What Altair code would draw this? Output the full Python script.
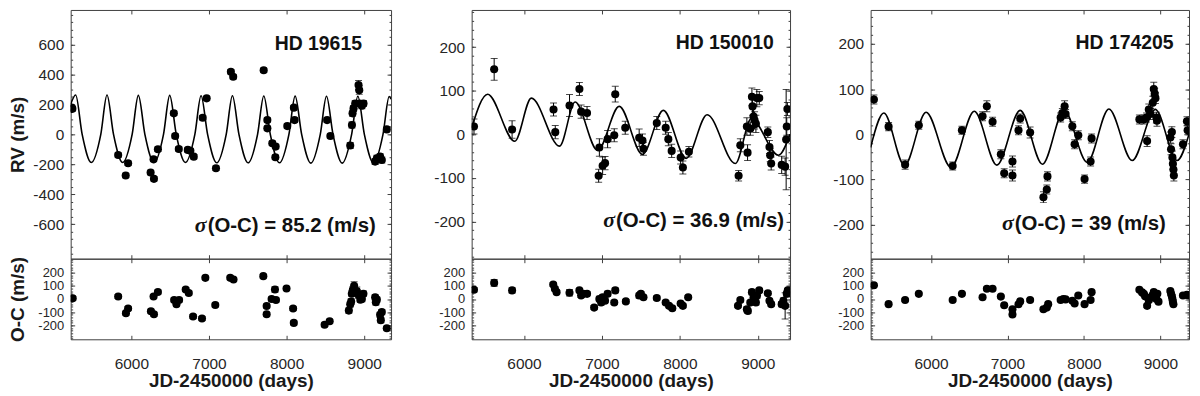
import altair as alt
import pandas as pd

FONT = "Liberation Sans"
AX = "#404040"
X_TICKS = [6000, 7000, 8000, 9000]
OC_MAJ = [-200, -100, 0, 100, 200]
OC_MIN = [-300, -280, -260, -240, -220, -200, -180, -160, -140, -120, -100, -80, -60, -40, -20, 0,
          20, 40, 60, 80, 100, 120, 140, 160, 180, 200, 220, 240, 260, 280, 300]

# ---------------- HD 19615 ----------------
s1_jd = [5231, 5240, 5830, 5927, 5958, 6248, 6291, 6286, 6342, 6547, 6564, 6611, 6727, 6760, 6804, 6919,
         6970, 7090, 7282, 7312, 7705, 7752, 7752, 7816, 7859, 7855, 8009, 8094, 8103, 8522, 8564, 8820,
         8842, 8850, 8863, 8884, 8927, 8936, 8940, 8970, 8991, 9141, 9163, 9205, 9227, 9291]
s1_rv = [178, 170, -138, -275, -193, -255, -297, -167, -100, 140, -11, -98, -104, -110, -149, 111,
         240, -226, 417, 384, 428, 95, 40, -60, -82, -153, 55, 178, 95, 95, -11, -75,
         62, 140, 173, 206, 329, 295, 206, 191, 206, -182, -160, -149, -171, 33]
s1_err = [15, 15, 15, 15, 15, 15, 15, 15, 15, 15, 15, 15, 15, 15, 15, 15, 15, 15, 15, 15, 15, 15, 15,
          15, 15, 15, 15, 15, 15, 15, 15, 20, 20, 20, 20, 20, 30, 30, 20, 20, 20, 20, 20, 20, 20, 15]
s1_oc_jd = [5244, 5830, 5930, 5958, 6252, 6291, 6286, 6342, 6551, 6581, 6615, 6700, 6740, 6795, 6910, 6953,
            7081, 7274, 7316, 7700, 7743, 7743, 7807, 7850, 7863, 7999, 8084, 8093, 8490, 8555, 8802, 8820,
            8832, 8840, 8853, 8870, 8905, 8927, 8950, 8970, 8990, 9141, 9150, 9163, 9205, 9214, 9227, 9291]
s1_oc = [5, 19, -107, -72, -93, -115, 19, 53, -8, -40, -8, 72, 45, -133, -147, 160,
         -45, 160, 147, 173, -53, -115, 0, 72, -8, 80, -72, -181, -195, -168, -88, -40,
         -19, 40, 67, 100, 60, 30, -5, 0, 40, 13, -25, -5, -120, -160, -99, -221]
s1_oc_err = [15, 15, 15, 15, 15, 15, 15, 15, 15, 15, 15, 15, 15, 15, 15, 15, 15, 15, 15, 15, 15, 15, 15, 20,
             15, 15, 15, 15, 15, 15, 20, 20, 20, 20, 25, 30, 30, 25, 20, 20, 20, 20, 20, 20, 20, 20, 20, 15]
s1_fit_jd = [5218, 5282, 5366, 5484, 5606, 5686, 5770, 5888, 6010, 6090, 6174, 6292, 6414, 6494, 6578,
             6696, 6818, 6898, 6982, 7100, 7222, 7302, 7386, 7504, 7626, 7706, 7790, 7908, 8030, 8110,
             8194, 8312, 8434, 8514, 8598, 8716, 8838, 8918, 9002, 9120, 9242, 9322, 9346]
s1_fit_rv = [200, 262, 0, -188, 0, 262, 0, -188, 0, 260, 0, -188, 0, 260, 0,
             -188, 0, 258, 0, -190, 0, 258, 0, -190, 0, 256, 0, -190, 0, 255,
             0, -192, 0, 254, 0, -192, 0, 254, 0, -192, 0, 252, 235]

# ---------------- HD 150010 ----------------
s2_jd = [5358, 5617, 5847, 6379, 6401, 6584, 6711, 6733, 6809, 6958, 6967, 7009, 7040, 7073, 7158, 7171,
         7299, 7478, 7520, 7533, 7704, 7818, 7852, 7895, 8010, 8039, 8116, 8754, 8776, 8860, 8869, 8904,
         8925, 8933, 8946, 8959, 8976, 8988, 9019, 9129, 9150, 9159, 9172, 9307, 9351, 9364, 9372, 9380]
s2_rv = [18, 149, 11, 57, 5, 66, 104, 52, 49, -95, -30, -72, -66, -11, -2, 92,
         15, -8, -14, -33, 26, 15, -11, -38, -53, -76, -40, -95, -25, 18, -42, 13,
         86, 64, 41, 32, 24, 83, 83, 5, -29, -48, -67, -70, -74, -12, 18, 58]
s2_err = [17, 25, 20, 15, 15, 25, 15, 15, 15, 15, 20, 20, 15, 20, 15, 18,
          15, 20, 15, 15, 15, 15, 15, 15, 15, 15, 12, 12, 15, 20, 18, 15,
          20, 20, 25, 20, 20, 20, 15, 12, 15, 15, 15, 20, 20, 115, 20, 15]
s2_oc_jd = [5358, 5617, 5847, 6375, 6396, 6418, 6584, 6711, 6733, 6760, 6809, 6900, 6967, 6990, 7009, 7040,
            7073, 7158, 7171, 7307, 7478, 7500, 7533, 7704, 7818, 7861, 7903, 8010, 8039, 8107, 8746, 8776,
            8860, 8873, 8904, 8925, 8946, 8959, 8976, 8990, 9019, 9129, 9150, 9172, 9307, 9329, 9351, 9372, 9385]
s2_oc = [70, 122, 65, 109, 78, 52, 47, 65, 26, 39, 39, -65, 0, -26, 13, -13,
         39, -26, 65, -18, 26, 39, 13, 8, -26, -52, -70, -34, -52, 13, -52, -8,
         -78, -91, -26, 52, 13, -5, -26, 26, 65, 44, -13, -39, -39, -13, -52, 39, 65]
s2_oc_err = [17, 25, 20, 15, 15, 15, 25, 15, 15, 15, 15, 15, 20, 20, 20, 15,
             20, 15, 18, 15, 20, 15, 15, 15, 15, 15, 15, 15, 15, 12, 12, 15,
             20, 18, 15, 20, 25, 20, 20, 20, 15, 12, 15, 15, 20, 20, 100, 20, 15]
s2_fit_jd = [5328, 5533, 5881, 6094, 6456, 6656, 6945, 7222, 7520, 7788, 8081, 8350, 8712, 8917, 9265, 9414]
s2_fit_rv = [15, 92, -16, 83, -27, 74, -37, 64, -46, 55, -55, 45, -67, 36, -48, 0]

# ---------------- HD 174205 ----------------
s3_jd = [5253, 5445, 5661, 5840, 6283, 6404, 6674, 6730, 6805, 6913, 6957, 7065, 7065, 7144, 7166, 7296,
         7470, 7514, 7523, 7695, 7717, 7747, 7760, 7848, 7878, 7926, 8008, 8087, 8100, 8725, 8783, 8817,
         8826, 8848, 8869, 8900, 8913, 8925, 8935, 8947, 8955, 9130, 9139, 9150, 9157, 9163, 9170, 9176,
         9295, 9347, 9356]
s3_rv = [77, 17, -67, 20, -70, 9, 40, 62, 28, -44, -86, -91, -60, 9, 35, 4,
         -139, -122, -93, 37, 47, 62, 45, 18, -22, -2, -99, -60, -9, 33, 33, 37,
         -15, 55, 45, 70, 100, 90, 80, 37, 30, -7, -33, 5, -51, -65, -78, -91,
         -22, 29, 9]
s3_err = [10, 9, 10, 9, 9, 9, 10, 12, 10, 10, 10, 12, 12, 10, 10, 12,
          12, 10, 10, 10, 10, 12, 10, 10, 10, 10, 9, 10, 10, 10, 10, 10,
          12, 12, 12, 14, 15, 12, 12, 12, 12, 12, 12, 12, 14, 12, 12, 12,
          10, 10, 10]
s3_oc_jd = [5253, 5445, 5661, 5840, 6283, 6404, 6674, 6730, 6805, 6913, 6957, 7065, 7065, 7144, 7166, 7296,
            7470, 7514, 7532, 7695, 7730, 7760, 7848, 7878, 7926, 8008, 8087, 8100, 8725, 8760, 8783, 8800,
            8826, 8848, 8869, 8900, 8913, 8935, 8947, 8960, 8975, 9130, 9139, 9150, 9157, 9163, 9170, 9295,
            9347, 9370]
s3_oc = [104, -39, -8, 39, -8, 39, 13, 78, 78, 18, -47, -78, -117, -39, -18, -8,
         -78, -65, -39, -8, 0, -3, -13, -34, 26, -39, -8, 52, 70, 50, 39, 20,
         -52, -10, 10, 30, 52, 26, 0, 40, -20, 60, 40, 20, 0, -20, -40, 26,
         31, 28]
s3_oc_err = [10, 9, 10, 9, 9, 9, 10, 12, 10, 10, 10, 12, 12, 10, 10, 12,
             12, 10, 10, 10, 10, 12, 10, 10, 10, 10, 9, 10, 10, 10, 10, 10,
             12, 12, 12, 14, 15, 12, 12, 12, 12, 12, 12, 12, 14, 12, 12, 12,
             10, 10]
s3_fit_jd = [5210, 5383, 5653, 5935, 6261, 6566, 6861, 7166, 7457, 7740, 8043, 8326, 8630, 8934, 9217, 9374]
s3_fit_rv = [-29, 47, -69, 49, -73, 51, -68, 53, -66, 53, -62, 56, -58, 55, -58, 0]

# tick values
p1_maj = [-600, -400, -200, 0, 200, 400, 600]
p1_min = [-800, -750, -700, -650, -600, -550, -500, -450, -400, -350, -300, -250, -200, -150, -100, -50, 0,
          50, 100, 150, 200, 250, 300, 350, 400, 450, 500, 550, 600, 650, 700, 750, 800]
p23_maj = [-200, -100, 0, 100, 200]
p23_min = [-280, -260, -240, -220, -200, -180, -160, -140, -120, -100, -80, -60, -40, -20, 0,
           20, 40, 60, 80, 100, 120, 140, 160, 180, 200, 220, 240, 260, 280]

# annotations
names = ["HD 19615", "HD 150010", "HD 174205"]
name_x = [7846, 7946, 7890]
name_y = [560, 195, 189]
stats = ["(O-C) = 85.2 (m/s)", "(O-C) = 36.9 (m/s)", "(O-C) = 39 (m/s)"]
stat_x = [6983, 7180, 7095]
stat_y = [-655, -212, -211]

PLAIN = "'' + datum.value"


def tick_axis(orient, values, size):
    return alt.Axis(orient=orient, values=values, labels=False, domain=False, grid=False,
                    ticks=True, tickSize=size, offset=-size, tickColor=AX, tickWidth=1,
                    title=None, minExtent=0)


def panel(jd, v, e, fit_jd, fit_v, xdom, ydom, ymaj, ymin, w, h, ytitle, show_x, ylab_size,
          ytitle_pad, ann=None):
    pts = pd.DataFrame({"jd": jd, "v": v, "e": e})
    xs = alt.Scale(domain=xdom, nice=False, zero=False)
    ys = alt.Scale(domain=ydom, nice=False, zero=False)
    base = alt.Chart(pts)

    def axes_layer(xax, yax):
        return base.mark_point(opacity=0).encode(
            x=alt.X("jd:Q", scale=xs, axis=xax),
            y=alt.Y("v:Q", scale=ys, axis=yax))

    if show_x:
        main_x = alt.Axis(orient="bottom", values=X_TICKS, ticks=False, domain=False, grid=False,
                          labelPadding=17, labelExpr=PLAIN, title="JD-2450000 (days)", titlePadding=0,
                          minExtent=0, labelFlush=False)
    else:
        main_x = None
    ykw = dict(orient="left", values=ymaj, ticks=False, domain=False, grid=False,
               labelPadding=7, labelOverlap=False, minExtent=0, labelFlush=False,
               labelExpr=PLAIN, labelFontSize=ylab_size)
    if ytitle:
        main_y = alt.Axis(title=ytitle, titlePadding=ytitle_pad, **ykw)
    else:
        main_y = alt.Axis(title=None, **ykw)

    layers = [
        axes_layer(main_x, main_y),
        axes_layer(tick_axis("bottom", X_TICKS, 4), tick_axis("left", ymaj, 4)),
        axes_layer(tick_axis("top", X_TICKS, 4), tick_axis("right", ymaj, 4)),
        axes_layer(None, tick_axis("left", ymin, 2)),
        axes_layer(None, tick_axis("right", ymin, 2)),
    ]

    def X():
        return alt.X("jd:Q", scale=xs, axis=None)

    if fit_jd is not None:
        fit = pd.DataFrame({"jd": fit_jd, "v": fit_v})
        layers.append(alt.Chart(fit).mark_line(color="black", strokeWidth=1.6,
                                               interpolate="monotone", clip=True).encode(
            x=X(), y=alt.Y("v:Q", scale=ys, axis=None)))

    eb = base.transform_calculate(lo="datum.v - datum.e", hi="datum.v + datum.e")
    layers.append(eb.mark_rule(color="black", strokeWidth=1, clip=True).encode(
        x=X(), y=alt.Y("lo:Q", scale=ys, axis=None), y2="hi:Q"))
    for fld in ["lo", "hi"]:
        layers.append(eb.mark_tick(orient="horizontal", size=7, thickness=1, color="black", clip=True).encode(
            x=X(), y=alt.Y(f"{fld}:Q", scale=ys, axis=None)))
    layers.append(base.mark_circle(size=66, color="black", opacity=1, clip=True).encode(
        x=X(), y=alt.Y("v:Q", scale=ys, axis=None)))

    if ann is not None:
        nm, nx, ny, st, sx, sy = ann
        d1 = pd.DataFrame({"jd": [nx], "v": [ny], "t": [nm]})
        d2 = pd.DataFrame({"jd": [sx], "v": [sy], "t": [st]})
        d3 = pd.DataFrame({"jd": [sx], "v": [sy], "t": ["σ"]})
        layers.append(alt.Chart(d1).mark_text(align="left", baseline="alphabetic", font=FONT,
                                              fontSize=19.5, fontWeight="bold", color="#111111").encode(
            x=X(), y=alt.Y("v:Q", scale=ys, axis=None), text="t:N"))
        layers.append(alt.Chart(d2).mark_text(align="left", baseline="alphabetic", font=FONT,
                                              fontSize=20.5, fontWeight="bold", color="#111111").encode(
            x=X(), y=alt.Y("v:Q", scale=ys, axis=None), text="t:N"))
        layers.append(alt.Chart(d3).mark_text(align="right", baseline="alphabetic", font="Liberation Serif",
                                              fontSize=22, fontStyle="italic", fontWeight="bold",
                                              color="#111111", dx=-1).encode(
            x=X(), y=alt.Y("v:Q", scale=ys, axis=None), text="t:N"))

    return alt.layer(*layers).resolve_axis(x="independent", y="independent").properties(width=w, height=h)


TOP_H = 250
OC_H = 81
OC_DOM = [-305, 305]
TOP_LAB = 15.5
OC_LAB = 13

t1 = panel(s1_jd, s1_rv, s1_err, s1_fit_jd, s1_fit_rv, [5218, 9346], [-830, 830], p1_maj, p1_min,
           322, TOP_H, "RV (m/s)", False, TOP_LAB, 5,
           (names[0], name_x[0], name_y[0], stats[0], stat_x[0], stat_y[0]))
t2 = panel(s2_jd, s2_rv, s2_err, s2_fit_jd, s2_fit_rv, [5328, 9414], [-285, 285], p23_maj, p23_min,
           320, TOP_H, None, False, TOP_LAB, 5,
           (names[1], name_x[1], name_y[1], stats[1], stat_x[1], stat_y[1]))
t3 = panel(s3_jd, s3_rv, s3_err, s3_fit_jd, s3_fit_rv, [5210, 9374], [-275, 275], p23_maj, p23_min,
           320, TOP_H, None, False, TOP_LAB, 5,
           (names[2], name_x[2], name_y[2], stats[2], stat_x[2], stat_y[2]))
b1 = panel(s1_oc_jd, s1_oc, s1_oc_err, None, None, [5218, 9346], OC_DOM, OC_MAJ, OC_MIN,
           322, OC_H, "O-C (m/s)", True, OC_LAB, 10)
b2 = panel(s2_oc_jd, s2_oc, s2_oc_err, None, None, [5328, 9414], OC_DOM, OC_MAJ, OC_MIN,
           320, OC_H, None, True, OC_LAB, 10)
b3 = panel(s3_oc_jd, s3_oc, s3_oc_err, None, None, [5210, 9374], OC_DOM, OC_MAJ, OC_MIN,
           320, OC_H, None, True, OC_LAB, 10)

chart = alt.concat(t1, t2, t3, b1, b2, b3, columns=3,
                   spacing={"row": 0, "column": 81}, bounds="flush").properties(
    padding=0
).configure_view(stroke=AX, strokeWidth=1).configure_axis(
    labelFont=FONT, labelFontSize=15.5, labelColor="#262626",
    titleFont=FONT, titleFontSize=19, titleFontWeight="bold", titleColor="#1a1a1a"
)

chart.save("out.html", embed_options={"renderer": "svg", "actions": False})
